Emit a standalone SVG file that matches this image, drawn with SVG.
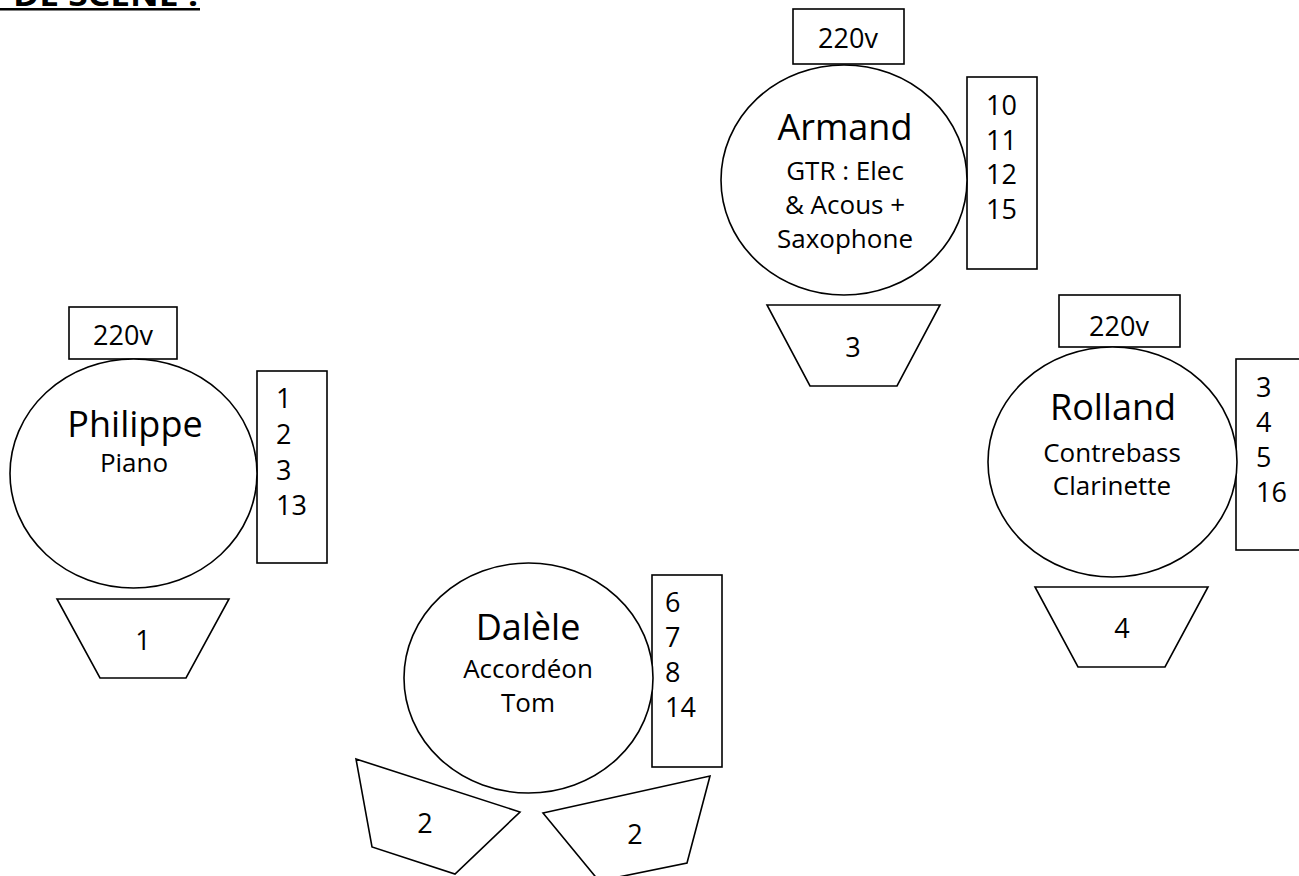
<svg xmlns="http://www.w3.org/2000/svg" width="1299" height="876" viewBox="0 0 1299 876">
<style>
.s{fill:#fff;stroke:#000;stroke-width:1.6}
text{font-family:"Open Sans","DejaVu Sans",sans-serif;fill:#000}
.nm{font-size:36px;font-weight:500;text-anchor:middle}
.sub{font-size:26px;text-anchor:middle}
.num{font-size:27px}
.v{font-size:27px;text-anchor:middle}
.tl{font-size:27px;text-anchor:middle}
.ttl{font-size:30px;font-weight:bold}
</style>
<rect width="1299" height="876" fill="#fff"/>
<g id="title">
<text class="ttl" x="13" y="6" textLength="185" lengthAdjust="spacingAndGlyphs">DE SCENE :</text>
<rect x="0" y="8" width="200" height="2.5" fill="#000"/>
</g>
<g id="connectors"></g>
<g id="armand">
<rect class="s" x="793" y="9" width="111" height="55"/>
<text class="v" x="848" y="48">220v</text>
<rect class="s" x="967" y="77" width="70" height="192"/>
<text class="num" x="986" y="115">10</text>
<text class="num" x="986" y="150">11</text>
<text class="num" x="986" y="184">12</text>
<text class="num" x="986" y="219">15</text>
<ellipse class="s" cx="844" cy="180" rx="123" ry="115"/>
<text class="nm" x="845" y="140">Armand</text>
<text class="sub" x="845" y="180">GTR : Elec</text>
<text class="sub" x="845" y="214">&amp; Acous +</text>
<text class="sub" x="845" y="248">Saxophone</text>
<polygon class="s" points="767,305 940,305 897,386 810,386"/>
<text class="tl" x="853" y="357">3</text>
</g>
<g id="philippe">
<rect class="s" x="69" y="307" width="108" height="52"/>
<text class="v" x="123" y="345">220v</text>
<rect class="s" x="257" y="371" width="70" height="192"/>
<text class="num" x="276" y="408">1</text>
<text class="num" x="276" y="444">2</text>
<text class="num" x="276" y="480">3</text>
<text class="num" x="276" y="515">13</text>
<ellipse class="s" cx="133.5" cy="473.5" rx="123.5" ry="114.5"/>
<text class="nm" x="135" y="437">Philippe</text>
<text class="sub" x="134" y="472">Piano</text>
<polygon class="s" points="57,599 229,599 186,678 100,678"/>
<text class="tl" x="143" y="650">1</text>
</g>
<g id="dalele">
<rect class="s" x="652" y="575" width="70" height="192"/>
<text class="num" x="665" y="612">6</text>
<text class="num" x="665" y="647">7</text>
<text class="num" x="665" y="682">8</text>
<text class="num" x="665" y="717">14</text>
<ellipse class="s" cx="528.5" cy="678" rx="124.5" ry="115"/>
<text class="nm" x="528" y="640">Dalèle</text>
<text class="sub" x="528" y="678">Accordéon</text>
<text class="sub" x="528" y="712">Tom</text>
<polygon class="s" points="356,759 520,812 455,874 372,847"/>
<text class="tl" x="425" y="833">2</text>
<polygon class="s" points="543,813 710,776 687,863 599,881"/>
<text class="tl" x="635" y="844">2</text>
</g>
<g id="rolland">
<rect class="s" x="1059" y="295" width="121" height="52"/>
<text class="v" x="1119" y="336">220v</text>
<rect class="s" x="1236" y="359" width="70" height="191"/>
<text class="num" x="1256" y="397">3</text>
<text class="num" x="1256" y="432">4</text>
<text class="num" x="1256" y="467">5</text>
<text class="num" x="1256" y="502">16</text>
<ellipse class="s" cx="1112.5" cy="462" rx="124.5" ry="115"/>
<text class="nm" x="1113" y="420">Rolland</text>
<text class="sub" x="1112" y="462">Contrebass</text>
<text class="sub" x="1112" y="495">Clarinette</text>
<polygon class="s" points="1035,587 1208,587 1165,667 1078,667"/>
<text class="tl" x="1122" y="638">4</text>
</g>
</svg>
